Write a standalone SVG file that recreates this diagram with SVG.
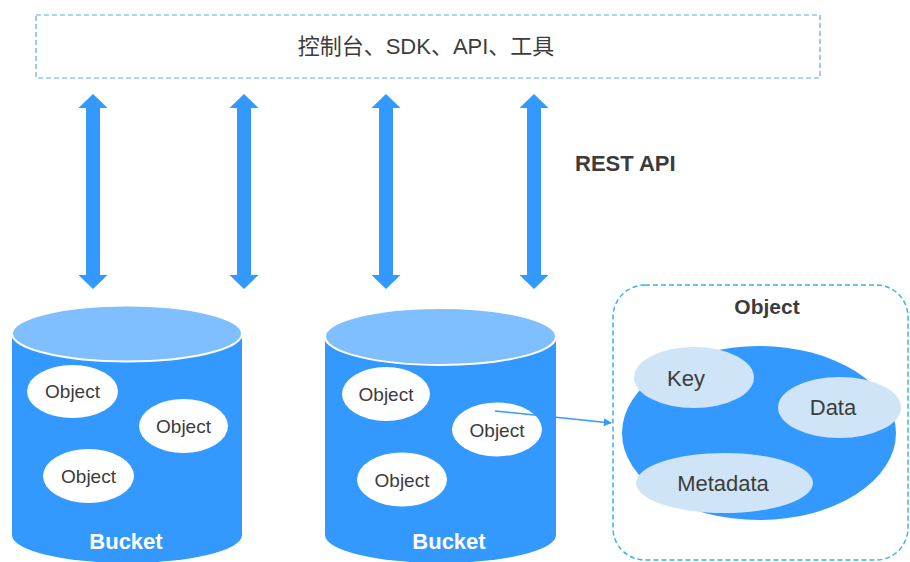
<svg xmlns="http://www.w3.org/2000/svg" width="910" height="562" viewBox="0 0 910 562">
<defs>
<style>
.t{font-family:"Liberation Sans","Noto Sans CJK SC",sans-serif;fill:#3c3c3c}
.obj{font-size:19px;text-anchor:middle}
.part{font-size:22px;text-anchor:middle}
.bk{font-family:"Liberation Sans",sans-serif;font-weight:bold;font-size:22px;fill:#fff;text-anchor:middle}
.body{fill:#3399ff}
.top{fill:#80bfff;stroke:#fff;stroke-width:2}
.wo{fill:#fff}
.lb{fill:#cfe4f7}
.arr{fill:#3399ff}
</style>
<marker id="ah" viewBox="0 0 10 10" refX="9" refY="5" markerWidth="8" markerHeight="8" orient="auto" markerUnits="userSpaceOnUse">
<path d="M0,0 L10,5 L0,10 z" fill="#3399ff"/>
</marker>
<path id="dbl" d="M0,0 L14.5,14 L7,14 L7,181 L14.5,181 L0,195 L-14.5,181 L-7,181 L-7,14 L-14.5,14 z"/>
</defs>
<rect width="910" height="562" fill="#fff"/>

<g id="clients">
<rect x="36" y="15" width="784" height="63" fill="none" stroke="#5aa9f0" stroke-width="1.2" stroke-dasharray="5,3"/>
<text class="t" x="426" y="54" font-size="22" text-anchor="middle">控制台、SDK、API、工具</text>
</g>

<g id="rest-api-label">
<text class="t" x="575" y="171" font-size="22" font-weight="bold">REST API</text>
</g>

<g id="bucket1">
<path class="body" d="M12,334 L12,535 A115,28 0 0 0 242,535 L242,334 z"/>
<ellipse class="top" cx="127" cy="333.5" rx="115" ry="28"/>
<ellipse class="wo" cx="72.5" cy="391.5" rx="45.5" ry="26.5"/>
<text class="t obj" x="72.5" y="398">Object</text>
<ellipse class="wo" cx="183.5" cy="426" rx="44.5" ry="27"/>
<text class="t obj" x="183.5" y="433">Object</text>
<ellipse class="wo" cx="88.5" cy="476" rx="45.5" ry="27"/>
<text class="t obj" x="88.5" y="483">Object</text>
<text class="bk" x="126" y="549">Bucket</text>
</g>

<g id="bucket2">
<path class="body" d="M325,337 L325,535 A115.5,28 0 0 0 556,535 L556,337 z"/>
<ellipse class="top" cx="440.5" cy="336.5" rx="115.5" ry="28.5"/>
<ellipse class="wo" cx="386" cy="394" rx="44" ry="27"/>
<text class="t obj" x="386" y="401">Object</text>
<ellipse class="wo" cx="497" cy="429.5" rx="45" ry="27"/>
<text class="t obj" x="497" y="436.5">Object</text>
<ellipse class="wo" cx="402" cy="479.5" rx="45" ry="27"/>
<text class="t obj" x="402" y="486.5">Object</text>
<text class="bk" x="449" y="549">Bucket</text>
</g>

<g id="object-detail">
<rect x="613" y="285" width="295" height="275" rx="32" ry="32" fill="none" stroke="#3cb4e6" stroke-width="1.5" stroke-dasharray="5,3"/>
<text class="t" x="767" y="314" font-size="21" font-weight="bold" text-anchor="middle">Object</text>
<ellipse class="body" cx="759" cy="433" rx="137" ry="87"/>
<ellipse class="lb" cx="694" cy="377.5" rx="60" ry="30.5"/>
<text class="t part" x="686" y="385.5">Key</text>
<ellipse class="lb" cx="839.5" cy="407.5" rx="61.5" ry="30.5"/>
<text class="t part" x="833" y="415">Data</text>
<ellipse class="lb" cx="724.5" cy="483" rx="88.5" ry="30"/>
<text class="t part" x="723" y="491">Metadata</text>
</g>

<g id="connectors">
<use href="#dbl" class="arr" x="93" y="94"/>
<use href="#dbl" class="arr" x="244" y="94"/>
<use href="#dbl" class="arr" x="386" y="94"/>
<use href="#dbl" class="arr" x="534" y="94"/>
<line x1="495" y1="411" x2="611" y2="423" stroke="#3399ff" stroke-width="1.5" marker-end="url(#ah)"/>
</g>
</svg>
